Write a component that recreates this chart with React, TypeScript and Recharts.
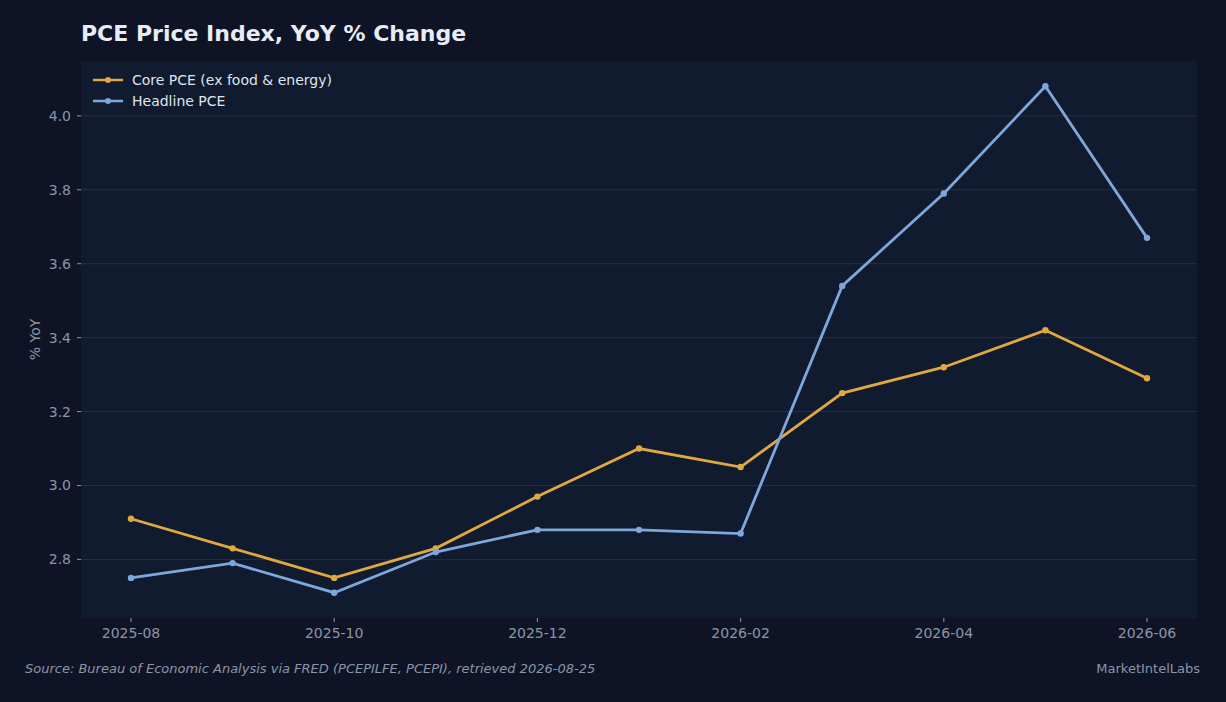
import React from 'react';
import { LineChart, Line, XAxis, YAxis, CartesianGrid } from 'recharts';

const months = ['2025-08', '2025-09', '2025-10', '2025-11', '2025-12', '2026-01', '2026-02', '2026-03', '2026-04', '2026-05', '2026-06'];
const corePce = [2.91, 2.83, 2.75, 2.83, 2.97, 3.1, 3.05, 3.25, 3.32, 3.42, 3.29];
const headlinePce = [2.75, 2.79, 2.71, 2.82, 2.88, 2.88, 2.87, 3.54, 3.79, 4.08, 3.67];
const yTicks = [2.8, 3.0, 3.2, 3.4, 3.6, 3.8, 4.0];

const data = months.map((m, i) => ({ month: m, core: corePce[i], headline: headlinePce[i] }));

const BG = '#0e1426';
const PLOT_BG = '#111b2f';
const GRID = '#252f45';
const MUTED = '#8c94a6';
const CORE = '#e0a840';
const HEADLINE = '#7ea7dc';
const FONT = '"DejaVu Sans", sans-serif';

const series = [
  { key: 'core', name: 'Core PCE (ex food & energy)', color: CORE },
  { key: 'headline', name: 'Headline PCE', color: HEADLINE }
];

function LegendBox() {
  return (
    <div style={{ position: 'absolute', left: 92, top: 69, fontFamily: FONT, fontSize: 14, color: '#dfe4ee' }}>
      {series.map(s => (
        <div key={s.key} style={{ display: 'flex', alignItems: 'center', height: 21 }}>
          <svg width={32} height={10} style={{ marginRight: 8 }}>
            <line x1={1} y1={5} x2={31} y2={5} stroke={s.color} strokeWidth={2.5} />
            <circle cx={16} cy={5} r={3} fill={s.color} />
          </svg>
          <span>{s.name}</span>
        </div>
      ))}
    </div>
  );
}

// y-axis title, centred on the plot height
function YLabel(props: any) {
  const vb = props.viewBox || {};
  const cx = vb.x + 35;
  const cy = vb.y + vb.height / 2;
  return (
    <text x={cx} y={cy} transform={`rotate(-90 ${cx} ${cy})`} textAnchor="middle" dominantBaseline="central" fill={MUTED} fontSize={14} fontFamily={FONT}>
      % YoY
    </text>
  );
}

export default function App() {
  return (
    <div style={{ position: 'absolute', top: 0, left: 0, width: 1226, height: 702, background: BG, fontFamily: FONT, overflow: 'hidden' }}>
      <div style={{ position: 'absolute', left: 81, top: 21, fontSize: 22, fontWeight: 'bold', color: '#e8ecf4' }}>
        PCE Price Index, YoY % Change
      </div>
      <LineChart width={1226} height={702} data={data} margin={{ top: 61, right: 29, bottom: 54, left: 0 }}>
        <CartesianGrid vertical={false} syncWithTicks stroke={GRID} fill={PLOT_BG} fillOpacity={1} />
        <XAxis
          dataKey="month"
          interval={1}
          padding={{ left: 50, right: 50 }}
          axisLine={false}
          tickLine={{ stroke: MUTED }}
          tickSize={4}
          tickMargin={6}
          tick={{ fill: MUTED, fontSize: 14, fontFamily: FONT }}
        />
        <YAxis
          width={81}
          domain={[2.6415, 4.1485]}
          ticks={yTicks}
          tickFormatter={(v: number) => v.toFixed(1)}
          axisLine={false}
          tickLine={{ stroke: MUTED }}
          tickSize={4}
          tickMargin={6}
          tick={{ fill: MUTED, fontSize: 14, fontFamily: FONT }}
          label={(p: any) => <YLabel {...p} />}
        />
        {series.map(s => (
          <Line
            key={s.key}
            dataKey={s.key}
            name={s.name}
            stroke={s.color}
            strokeWidth={2.8}
            dot={{ r: 3.2, fill: s.color, stroke: s.color, strokeWidth: 0 }}
            activeDot={false}
            isAnimationActive={false}
          />
        ))}
      </LineChart>
      <LegendBox />
      <div style={{ position: 'absolute', left: 25, top: 661, fontSize: 13, fontStyle: 'italic', color: MUTED }}>
        Source: Bureau of Economic Analysis via FRED (PCEPILFE, PCEPI), retrieved 2026-08-25
      </div>
      <div style={{ position: 'absolute', right: 26, top: 661, fontSize: 13, color: MUTED }}>
        MarketIntelLabs
      </div>
    </div>
  );
}
